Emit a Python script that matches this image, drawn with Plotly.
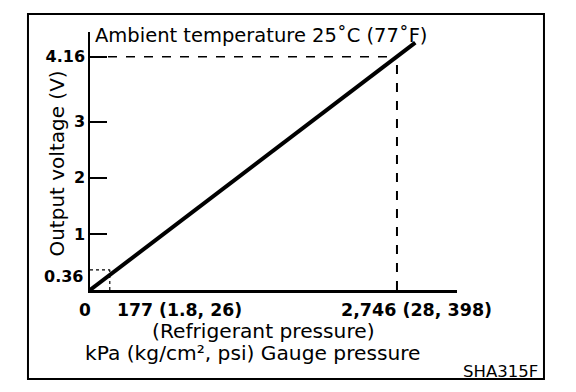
import plotly.graph_objects as go

# Data
line_kpa = [0, 2746, 2910]
line_volt = [0.0, 4.16, 4.41]
ref_low = (177, 0.36)
ref_high = (2746, 4.16)
y_tick_vals = [1, 2, 3, 4.16]
y_tick_text = ["1", "2", "3", "4.16"]
x_labels = ["0", "177 (1.8, 26)", "2,746 (28, 398)"]
title_text = "Ambient temperature 25\u02daC (77\u02daF)"
y_title = "Output voltage (V)"
x_title1 = "(Refrigerant pressure)"
x_title2 = "kPa (kg/cm\u00b2, psi) Gauge pressure"
code_text = "SHA315F"

FONT = "DejaVu Sans, Arial, sans-serif"

fig = go.Figure()
fig.add_trace(go.Scatter(x=line_kpa, y=line_volt, mode="lines",
                         line=dict(color="black", width=4), showlegend=False,
                         hoverinfo="skip"))

shapes = []
# dashed reference lines
shapes.append(dict(type="line", xref="x", yref="y", x0=0, x1=ref_high[0],
                   y0=ref_high[1], y1=ref_high[1],
                   line=dict(color="black", width=1.5, dash="dash")))
shapes.append(dict(type="line", xref="x", yref="y", x0=ref_high[0], x1=ref_high[0],
                   y0=0, y1=ref_high[1],
                   line=dict(color="black", width=2, dash="dash")))
# dotted low reference
shapes.append(dict(type="line", xref="x", yref="y", x0=0, x1=ref_low[0],
                   y0=ref_low[1], y1=ref_low[1],
                   line=dict(color="black", width=1.2, dash="dot")))
shapes.append(dict(type="line", xref="x", yref="y", x0=ref_low[0], x1=ref_low[0],
                   y0=0, y1=ref_low[1],
                   line=dict(color="black", width=1.2, dash="dot")))
# outer frame
shapes.append(dict(type="rect", xref="paper", yref="paper",
                   x0=-0.169, x1=1.237, y0=-0.345, y1=1.070,
                   line=dict(color="black", width=2)))

annotations = [
    dict(text=title_text, xref="paper", yref="paper", x=0.008, y=0.988,
         xanchor="left", yanchor="middle", showarrow=False,
         font=dict(size=19.5, color="black", family=FONT)),
    dict(text=y_title, xref="paper", yref="paper", x=-0.09, y=0.49,
         xanchor="center", yanchor="middle", textangle=-90, showarrow=False,
         font=dict(size=20, color="black", family=FONT)),
    dict(text="<b>0.36</b>", xref="paper", yref="y", x=0, y=ref_low[1],
         xanchor="right", yanchor="middle", showarrow=False, xshift=-5, yshift=-7,
         font=dict(size=16, color="black", family=FONT)),
    dict(text="<b>%s</b>" % x_labels[0], xref="x", yref="paper", x=0, y=0,
         xanchor="center", yanchor="top", showarrow=False, xshift=-5, yshift=-8,
         font=dict(size=17, color="black", family=FONT)),
    dict(text="<b>%s</b>" % x_labels[1], xref="x", yref="paper", x=ref_low[0], y=0,
         xanchor="left", yanchor="top", showarrow=False, xshift=5, yshift=-8,
         font=dict(size=17.3, color="black", family=FONT)),
    dict(text="<b>%s</b>" % x_labels[2], xref="x", yref="paper", x=ref_high[0], y=0,
         xanchor="center", yanchor="top", showarrow=False, xshift=20, yshift=-8,
         font=dict(size=17.5, color="black", family=FONT)),
    dict(text=x_title1, xref="paper", yref="paper", x=0.473, y=-0.159,
         xanchor="center", yanchor="middle", showarrow=False,
         font=dict(size=20.2, color="black", family=FONT)),
    dict(text=x_title2, xref="paper", yref="paper", x=0.4455, y=-0.244,
         xanchor="center", yanchor="middle", showarrow=False,
         font=dict(size=20.2, color="black", family=FONT)),
    dict(text=code_text, xref="paper", yref="paper", x=1.226, y=-0.314,
         xanchor="right", yanchor="middle", showarrow=False,
         font=dict(size=16.5, color="black", family=FONT)),
]

fig.update_layout(
    width=576, height=392,
    margin=dict(l=90, r=119, t=32, b=102),
    paper_bgcolor="white", plot_bgcolor="white",
    shapes=shapes, annotations=annotations,
    showlegend=False,
    xaxis=dict(range=[0, 3283], showgrid=False, zeroline=False,
               showline=True, linecolor="black", linewidth=3,
               showticklabels=False, ticks="", fixedrange=True),
    yaxis=dict(range=[0, 4.6], showgrid=False, zeroline=False,
               showline=True, linecolor="black", linewidth=1.5,
               tickmode="array", tickvals=y_tick_vals,
               ticktext=["<b>%s</b>" % t for t in y_tick_text],
               ticks="inside", ticklen=17, tickwidth=2, tickcolor="black",
               tickfont=dict(size=16, color="black", family=FONT),
               fixedrange=True),
)

fig.write_html("out.html")
